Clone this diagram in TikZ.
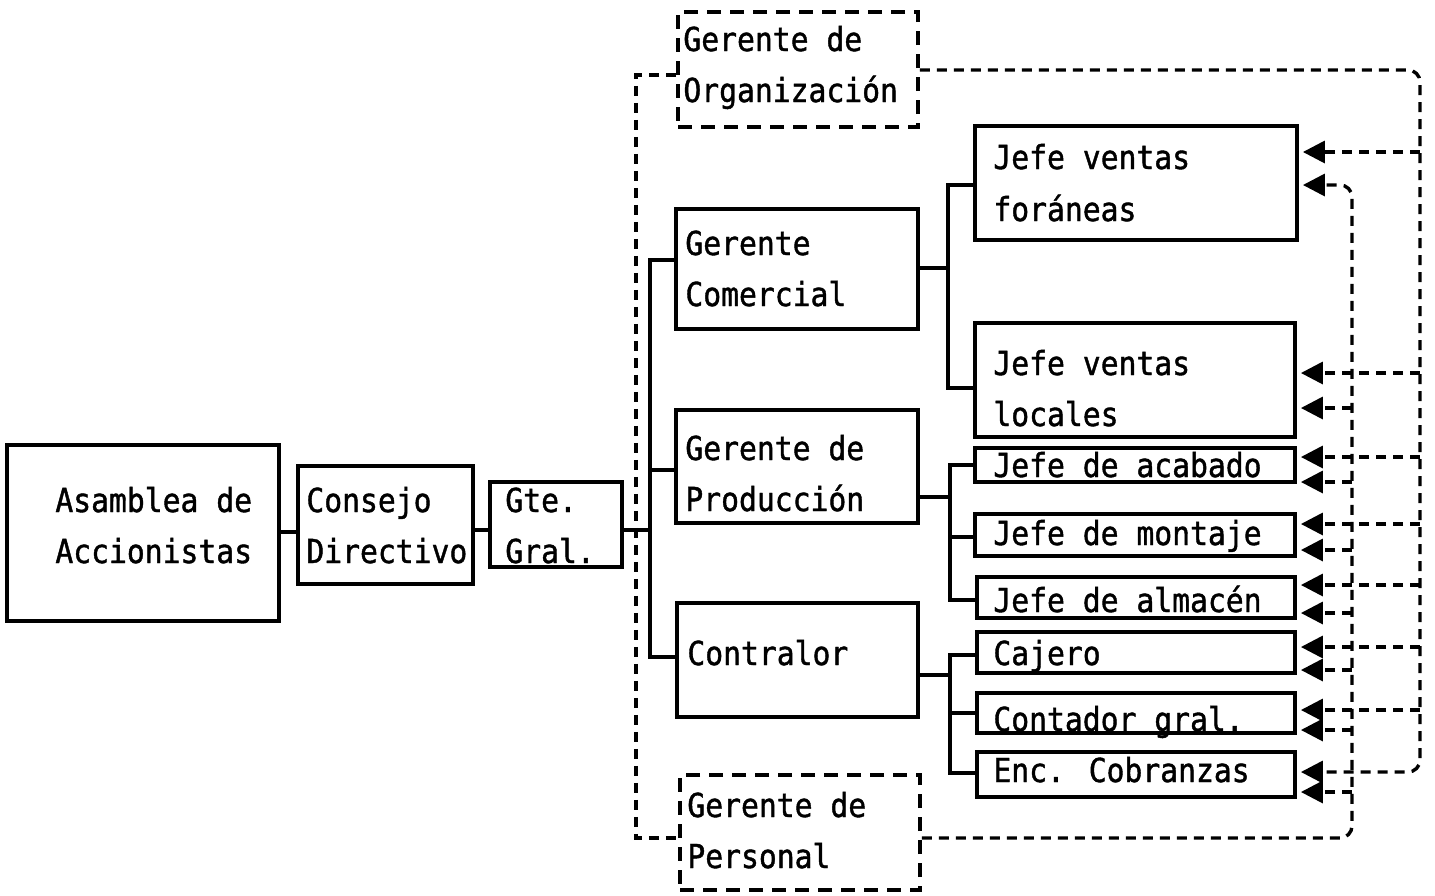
\documentclass[tikz,border=0pt]{standalone}
\usepackage{fontspec}
\newfontfamily\tw{DejaVu Sans Mono}[FakeStretch=0.9,FakeBold=1.2]
\usetikzlibrary{fit,arrows.meta}

% box from corner (x1,y1) to corner (x2,y2)
\newcommand\orgbox[6]{\node[#1, fit={(#3,#4) (#5,#6)}] (#2) {};}
% one line of text, placed by its baseline
\newcommand\tline[4]{\node[txt] (#1) at (#2,#3) {#4};}

\begin{document}
\begin{tikzpicture}[x=0.5pt,y=-0.5pt,
  solidbox/.style={draw, line width=1.9pt, inner sep=0pt},
  dashbox/.style={draw, line width=1.8pt, inner sep=0pt, dash pattern=on 7pt off 4.5pt},
  link/.style={line width=1.9pt},
  dsh/.style={line width=1.7pt, dash pattern=on 5pt off 3.5pt},
  tip/.style={-{Triangle[length=11pt,width=11pt]}, shorten >=2pt},
  txt/.style={anchor=base west, inner sep=0pt, font=\tw\fontsize{16.5pt}{20pt}\selectfont}]

\useasboundingbox (0,0) rectangle (1435,895);
\fill[white] (0,0) rectangle (1435,895);

% ---- boxes ----
\orgbox{solidbox}{asam}{7}{445}{279}{621}
\orgbox{solidbox}{cons}{298}{466}{473}{584}
\orgbox{solidbox}{gte}{490}{482}{622}{567}
\orgbox{dashbox}{org}{678}{12}{918}{127}
\orgbox{solidbox}{com}{676}{209}{918}{329}
\orgbox{solidbox}{prod}{676}{410}{918}{523}
\orgbox{solidbox}{contr}{677}{603}{918}{717}
\orgbox{dashbox}{per}{680}{775}{920}{890}
\orgbox{solidbox}{forn}{975}{126}{1297}{240}
\orgbox{solidbox}{locl}{975}{323}{1295}{437}
\orgbox{solidbox}{acab}{975}{448}{1295}{482}
\orgbox{solidbox}{mont}{975}{514}{1295}{556}
\orgbox{solidbox}{alma}{977}{577}{1295}{618}
\orgbox{solidbox}{caje}{977}{632}{1295}{673}
\orgbox{solidbox}{cont}{977}{693}{1295}{733}
\orgbox{solidbox}{enc}{977}{752}{1295}{797}

% ---- texts ----
\tline{asam1}{55}{512}{Asamblea de}
\tline{asam2}{55}{563}{Accionistas}
\tline{cons1}{306}{512}{Consejo}
\tline{cons2}{306}{563}{Directivo}
\tline{gte1}{505}{512}{Gte.}
\tline{gte2}{505}{563}{Gral.}
\tline{org1}{683}{51}{Gerente de}
\tline{org2}{683}{102}{Organización}
\tline{com1}{685}{255}{Gerente}
\tline{com2}{685}{306}{Comercial}
\tline{prod1}{685}{460}{Gerente de}
\tline{prod2}{685}{511}{Producción}
\tline{contr1}{687}{665}{Contralor}
\tline{per1}{687}{817}{Gerente de}
\tline{per2}{687}{868}{Personal}
\tline{forn1}{993}{169}{Jefe ventas}
\tline{forn2}{993}{221}{foráneas}
\tline{locl1}{993}{375}{Jefe ventas}
\tline{locl2}{993}{426}{locales}
\tline{acab1}{993}{477}{Jefe de acabado}
\tline{mont1}{993}{545}{Jefe de montaje}
\tline{alma1}{993}{612}{Jefe de almacén}
\tline{caje1}{993}{665}{Cajero}
\tline{cont1}{993}{731}{Contador gral.}
\tline{enc1}{993}{782}{Enc. Cobranzas}

% ---- solid lines of authority ----
\coordinate (tj) at (650,530);
\coordinate (t1) at (650,260);
\coordinate (t2) at (650,470);
\coordinate (t3) at (650,657);
\draw[link] (asam.east |- 0,532) -- (cons.west |- 0,532);
\draw[link] (cons.east |- 0,530) -- (gte.west |- 0,530);
\draw[link] (gte.east |- tj) -- (tj);
\draw[link] (com.west |- t1) -- (t1) -- (t3) -- (contr.west |- t3);
\draw[link] (t2) -- (prod.west |- t2);

\coordinate (ca) at (948,268);
\coordinate (ca1) at (948,185);
\coordinate (ca2) at (948,388);
\draw[link] (com.east |- ca) -- (ca);
\draw[link] (forn.west |- ca1) -- (ca1) -- (ca2) -- (locl.west |- ca2);

\coordinate (pa) at (950,497);
\coordinate (pa1) at (950,465);
\coordinate (pa2) at (950,537);
\coordinate (pa3) at (950,600);
\draw[link] (prod.east |- pa) -- (pa);
\draw[link] (acab.west |- pa1) -- (pa1) -- (pa3) -- (alma.west |- pa3);
\draw[link] (pa2) -- (mont.west |- pa2);

\coordinate (ka) at (950,675);
\coordinate (ka1) at (950,655);
\coordinate (ka2) at (950,713);
\coordinate (ka3) at (950,773);
\draw[link] (contr.east |- ka) -- (ka);
\draw[link] (caje.west |- ka1) -- (ka1) -- (ka3) -- (enc.west |- ka3);
\draw[link] (ka2) -- (cont.west |- ka2);

% ---- staff lines (dashed) ----
\coordinate (la) at (636,75);
\coordinate (lb) at (636,838);
\draw[dsh] (org.west |- la) -- (la) -- (lb) -- (per.west |- lb);

% from Gerente de Organizacion
\coordinate (oa) at (1420,70);
\coordinate (oz) at (1420,772);
\draw[dsh, tip, rounded corners=6pt] (org.east |- oa) -- (oa) -- (oz) -- (enc.east |- oz);
\foreach \yy/\nm in {152/forn, 373/locl, 457/acab, 524/mont, 585/alma, 647/caje, 710/cont}{
  \coordinate (o-\nm) at (1420,\yy);
  \draw[dsh, tip] (o-\nm) -- (\nm.east |- o-\nm);
}

% from Gerente de Personal
\coordinate (pz) at (1352,838);
\coordinate (pt) at (1352,185);
\draw[dsh, tip, rounded corners=6pt] (per.east |- pz) -- (pz) -- (pt) -- (forn.east |- pt);
\foreach \yy/\nm in {408/locl, 482/acab, 550/mont, 613/alma, 670/caje, 730/cont, 792/enc}{
  \coordinate (p-\nm) at (1352,\yy);
  \draw[dsh, tip] (p-\nm) -- (\nm.east |- p-\nm);
}
\end{tikzpicture}
\end{document}
